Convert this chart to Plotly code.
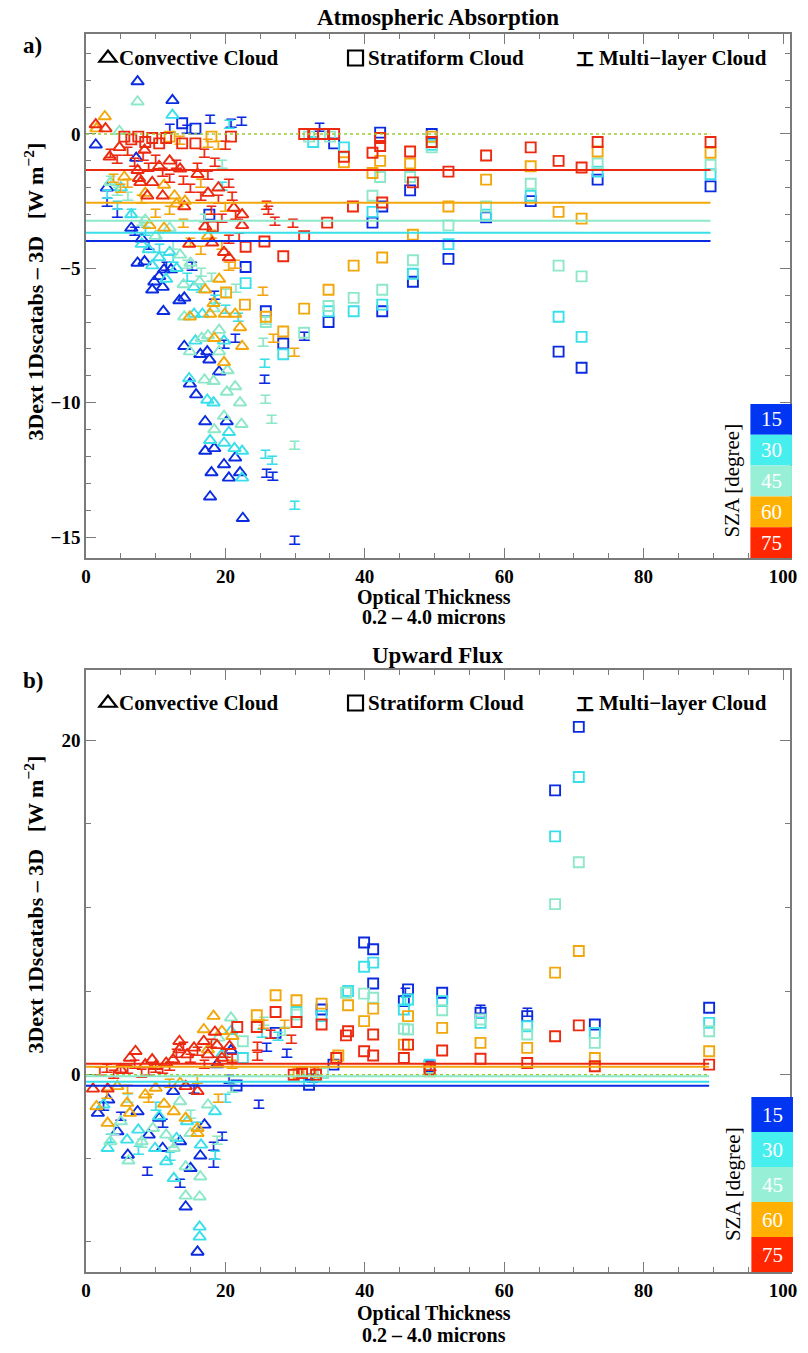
import plotly.graph_objects as go

# ---------------- data ----------------
SZA = [15, 30, 45, 60, 75]
SZA_COLORS = ["#0B2BE0", "#3ADFEA", "#8DE8C9", "#F2A80C", "#EC2A10"]
BOX_COLORS = ["#0036F2", "#46EEEE", "#97EFD6", "#FFB000", "#FF2600"]

# Panel a) Atmospheric Absorption : (optical thickness, 3Dext-1D difference)
a_conv_15 = [(1.4,-0.4),(7.4,1.95),(12.4,1.25),(7.2,-0.9),(3.0,-2.0),(6.5,-3.5),(8.0,-3.9),(7.4,-4.8),(8.4,-4.75),(9.8,-5.5),(9.5,-5.8),(10.5,-5.3),(11.0,-5.7),(11.2,-5.05),(12.2,-5.05),(11.1,-6.6),(13.4,-6.2),(14.1,-6.1),(14.1,-7.9),(16.4,-8.2),(17.4,-8.1),(17.7,-8.4),(19.1,-8.85),(14.9,-9.3),(15.8,-9.7),(17.1,-10.7),(20.2,-10.7),(17.1,-11.8),(18.4,-11.7),(21.4,-12.05),(19.8,-12.3),(22.1,-12.6),(18.0,-12.6),(20.5,-12.8),(17.8,-13.5),(22.5,-14.3)]
a_conv_30 = [(12.4,0.7),(5.0,-2.0),(6.5,-3.0),(8.0,-4.1),(9.0,-4.3),(10.5,-4.6),(12.0,-4.4),(13.0,-5.0),(15.5,-5.7),(15.5,-6.7),(16.7,-6.7),(15.7,-7.7),(19.8,-7.7),(14.8,-9.1),(17.4,-9.9),(18.3,-10.0),(20.5,-11.1),(17.8,-11.4),(19.8,-11.5),(21.3,-11.7),(22.4,-11.8),(22.4,-12.8),(9.5,-4.9),(11.5,-5.4)]
a_conv_45 = [(7.4,1.2),(4.8,0.1),(3.5,-1.8),(8.5,-3.2),(10.0,-3.8),(12.0,-3.5),(13.5,-4.5),(15.0,-4.8),(14.0,-5.6),(16.3,-5.5),(18.3,-6.5),(14.1,-6.8),(14.9,-8.1),(16.6,-7.6),(17.5,-7.5),(19.1,-7.3),(19.1,-8.1),(17.0,-9.15),(18.3,-9.2),(20.3,-8.8),(21.4,-9.4),(22.1,-10.0),(19.8,-10.5),(18.4,-11.0),(22.3,-10.8),(20.2,-9.6)]
a_conv_60 = [(1.5,0.2),(2.7,0.65),(5.5,-1.6),(8.5,-2.2),(11.2,-1.9),(12.7,-2.3),(13.0,-2.6),(14.2,-2.5),(9.1,-3.4),(11.2,-3.5),(19.1,-5.4),(17.1,-5.8),(18.3,-6.3),(14.9,-6.8),(17.8,-6.7),(19.9,-6.7),(21.4,-6.7),(22.1,-7.2),(18.4,-7.6),(22.4,-7.9),(19.8,-8.5),(17.5,-3.8)]
a_conv_75 = [(1.4,0.35),(2.8,0.2),(3.4,-0.85),(4.8,-0.5),(7.4,-1.35),(7.6,-1.65),(7.8,-1.8),(8.4,-0.6),(9.5,-1.8),(8.8,-2.3),(10.5,-1.2),(11.0,-2.3),(12.0,-1.0),(13.5,-1.3),(14.1,-2.7),(14.8,-4.1),(16.0,-1.5),(17.1,-3.45),(17.5,-2.2),(18.1,-4.05),(19.0,-2.0),(19.8,-4.4),(21.2,-2.75),(22.4,-3.0),(22.4,-3.4),(20.5,-4.6)]

a_strat_15 = [(15.7,0.2),(13.8,0.4),(17.7,-3.0),(22.9,-4.95),(25.8,-6.6),(28.3,-7.8),(34.8,-7.0),(35.6,-0.35),(41.1,-3.3),(42.2,0.05),(42.5,-2.7),(42.5,-6.6),(46.5,-2.1),(46.9,-5.5),(49.6,0.0),(52.0,-4.65),(57.4,-3.1),(63.8,-2.5),(67.8,-8.1),(71.1,-8.7),(73.4,-1.7),(89.6,-1.95)]
a_strat_30 = [(22.9,-5.55),(28.3,-8.2),(32.6,-0.3),(34.8,-6.6),(37.0,-0.5),(38.4,-6.6),(41.1,-2.9),(42.5,-6.35),(46.9,-5.2),(49.6,-0.4),(52.0,-4.1),(57.4,-3.0),(63.8,-2.3),(67.8,-6.8),(71.1,-7.55),(73.4,-1.4),(89.6,-1.5)]
a_strat_45 = [(25.8,-7.0),(31.3,-7.4),(32.0,-0.1),(34.8,-6.4),(35.0,-0.1),(38.4,-6.1),(41.1,-2.3),(42.2,-1.6),(42.5,-5.8),(46.5,-1.6),(46.9,-4.7),(49.6,-0.5),(52.0,-3.4),(57.4,-2.7),(63.8,-1.85),(67.8,-4.9),(71.1,-5.3),(73.4,-1.1),(89.6,-1.15)]
a_strat_60 = [(12.0,-0.1),(18.0,-0.1),(20.1,-5.9),(22.8,-6.35),(25.8,-6.8),(28.3,-7.35),(31.3,-6.5),(34.8,-5.8),(37.0,-1.05),(38.4,-4.9),(41.1,-1.45),(42.2,-1.0),(42.5,-4.6),(46.5,-1.1),(46.9,-3.75),(49.6,-0.1),(52.0,-2.7),(57.4,-1.7),(63.8,-1.2),(67.8,-2.9),(71.1,-3.15),(73.4,-0.65),(89.6,-0.7)]
a_strat_75 = [(5.5,-0.1),(6.5,-0.2),(7.5,-0.1),(8.5,-0.3),(9.5,-0.15),(10.5,-0.35),(11.5,-0.15),(13.8,-0.35),(15.7,-0.35),(20.8,-0.1),(18.2,-3.45),(22.9,-4.2),(25.6,-4.0),(28.3,-4.55),(31.3,-3.8),(34.6,-3.3),(38.3,-2.7),(31.3,0.0),(32.6,0.0),(34.0,0.0),(35.6,0.0),(37.0,-0.85),(41.1,-0.7),(42.2,-0.15),(42.2,-0.45),(42.5,-2.55),(46.5,-0.65),(46.9,-1.8),(49.6,-0.3),(52.0,-1.4),(57.4,-0.8),(63.8,-0.5),(67.8,-1.0),(71.1,-1.25),(73.4,-0.3),(89.6,-0.3)]

a_multi_15 = [(3.0,-2.6),(4.5,-3.0),(7.0,-3.7),(9.0,-4.2),(11.5,-5.0),(12.0,0.15),(14.5,0.1),(15.2,-5.0),(17.8,0.5),(18.4,-6.05),(19.8,-7.9),(20.8,0.35),(21.4,-7.65),(22.3,0.4),(25.6,-9.2),(25.9,-12.7),(26.8,-12.8),(29.9,-15.2),(31.3,-7.6),(33.5,0.2)]
a_multi_30 = [(3.0,-2.3),(4.5,-2.7),(6.5,-3.0),(8.5,-3.7),(10.5,-4.3),(12.5,-4.7),(14.5,-5.4),(16.5,-5.8),(18.5,-6.2),(19.5,-2.0),(20.0,-6.6),(20.5,0.3),(21.8,-6.9),(25.6,-8.6),(25.7,-12.0),(26.7,-12.2),(29.9,-13.9)]
a_multi_45 = [(3.5,-1.8),(4.5,-2.2),(6.0,-2.4),(8.0,-3.3),(10.5,-3.9),(12.5,-4.2),(14.5,-4.9),(16.5,-5.2),(17.0,-3.2),(18.0,-5.4),(19.5,-1.2),(20.0,-6.0),(21.5,-5.8),(25.4,-7.8),(25.7,-7.0),(25.7,-9.95),(26.6,-10.7),(29.9,-11.65)]
a_multi_60 = [(4.0,-1.7),(5.0,-2.1),(6.0,-1.9),(8.0,-2.5),(10.0,-3.0),(12.0,-2.9),(13.5,-0.3),(14.0,-3.4),(15.0,-4.1),(16.5,-4.4),(16.5,-1.9),(17.5,-0.4),(18.0,-3.8),(19.0,-0.5),(19.5,-4.2),(20.0,-2.8),(20.5,-5.0),(21.4,-4.9),(25.4,-5.9),(26.9,-7.65),(29.9,-8.2)]
a_multi_75 = [(3.5,-0.8),(4.5,-1.0),(6.0,-0.7),(7.0,-1.1),(8.2,-0.9),(9.0,-1.3),(10.0,-1.0),(11.0,-1.5),(12.0,-1.7),(13.0,-1.2),(14.0,-1.8),(15.0,-2.1),(16.0,-1.3),(16.5,-2.4),(17.0,-0.8),(17.5,-1.6),(18.0,-2.9),(18.5,-1.1),(19.0,-2.5),(19.5,-3.2),(20.0,-0.5),(20.5,-1.9),(21.0,-2.4),(21.5,-3.1),(22.0,-3.9),(20.5,-4.0),(25.9,-2.7),(26.2,-2.9),(27.1,-3.3),(29.7,-3.4)]

a_mean = [-3.98, -3.68, -3.23, -2.56, -1.34]

# Panel b) Upward Flux
b_conv_15 = [(1.7,-2.3),(3.2,-1.5),(4.5,-3.4),(6.0,-4.8),(7.4,-2.2),(9.0,-3.6),(10.5,-2.6),(11.0,-4.4),(12.5,-1.0),(13.5,-4.0),(14.3,-7.9),(15.0,-5.6),(16.0,-10.6),(16.4,-4.85),(17.0,-3.0),(18.8,0.6),(20.8,1.45)]
b_conv_30 = [(2.5,-1.8),(3.1,-4.4),(5.9,-3.9),(7.5,-3.3),(9.9,-4.4),(10.5,-2.5),(11.5,-5.2),(12.6,-6.2),(13.0,-3.8),(14.5,-2.8),(16.3,-9.7),(16.3,-9.1),(16.5,-4.2),(18.5,-2.2),(19.5,1.2),(20.8,2.6)]
b_conv_45 = [(3.5,-4.0),(5.0,-2.8),(6.1,-5.15),(8.0,-4.0),(9.6,-3.2),(11.5,-3.6),(12.6,-4.4),(13.5,-1.6),(14.3,-5.5),(14.3,-7.25),(15.0,-3.5),(16.3,-7.3),(16.4,-6.1),(17.5,-1.8),(19.0,2.2),(20.8,3.4)]
b_conv_60 = [(1.5,-1.9),(3.1,-2.9),(4.5,-0.7),(5.9,-1.7),(6.3,-2.3),(8.5,-1.2),(10.0,-0.8),(11.2,-1.75),(12.6,-2.2),(13.5,-0.5),(14.3,-2.6),(16.0,-3.5),(16.0,-3.2),(16.9,2.7),(17.5,1.5),(18.3,3.5),(19.5,2.6),(21.0,2.3)]
b_conv_75 = [(1.0,-0.85),(3.1,-0.85),(5.0,0.3),(6.3,1.0),(7.1,1.4),(8.5,0.6),(9.5,0.9),(10.0,0.5),(11.5,0.7),(12.5,0.9),(13.4,2.0),(13.4,1.5),(14.3,-0.7),(14.5,1.2),(15.5,1.6),(16.0,-1.0),(16.9,2.0),(17.5,1.2),(18.5,2.55),(18.8,1.75),(19.5,1.0),(20.6,1.7)]

b_strat_15 = [(21.6,-0.65),(27.2,2.5),(32.0,-0.6),(33.8,3.9),(35.5,0.6),(39.9,7.9),(41.2,7.5),(41.2,5.45),(45.6,4.4),(46.2,5.1),(49.3,0.5),(51.1,4.9),(56.6,3.7),(63.3,3.5),(67.3,17.0),(70.7,20.8),(73.0,3.0),(89.4,4.0)]
b_strat_30 = [(22.5,1.0),(30.2,3.75),(32.0,-0.35),(33.8,3.5),(37.6,5.0),(39.9,6.45),(41.2,6.7),(45.6,3.9),(46.2,4.5),(49.3,0.6),(51.1,4.4),(56.6,3.1),(63.3,2.9),(67.3,14.25),(70.7,17.8),(73.0,2.5),(89.4,3.1)]
b_strat_45 = [(22.5,2.0),(30.2,3.6),(34.0,0.1),(37.3,4.9),(39.9,4.85),(41.2,4.6),(45.6,2.75),(46.2,2.7),(49.3,0.4),(51.1,3.85),(56.6,3.3),(63.3,2.4),(67.3,10.2),(70.7,12.7),(73.0,1.9),(89.4,2.6)]
b_strat_60 = [(24.5,3.55),(27.2,4.75),(30.2,4.45),(30.5,0.1),(33.8,4.25),(36.2,1.15),(37.6,4.15),(39.9,3.2),(41.2,3.95),(45.6,1.8),(46.2,3.5),(49.3,0.2),(51.1,2.8),(56.6,1.9),(63.3,1.6),(67.3,6.1),(70.7,7.4),(73.0,1.0),(89.4,1.4)]
b_strat_75 = [(21.7,2.85),(24.5,2.85),(27.2,3.75),(29.8,0.0),(30.2,3.15),(31.0,0.1),(33.0,0.0),(33.8,3.0),(35.9,1.0),(37.3,2.35),(37.6,2.6),(39.9,1.4),(41.2,2.4),(41.2,1.15),(45.6,1.0),(46.2,1.8),(49.3,0.3),(51.1,1.45),(56.6,0.95),(63.3,0.7),(67.3,2.3),(70.7,2.95),(73.0,0.5),(89.4,0.6)]

b_multi_15 = [(2.5,-2.0),(5.0,-2.6),(8.8,-5.9),(11.0,-3.0),(13.5,-6.6),(15.5,-1.0),(18.3,-5.4),(18.3,-4.4),(19.5,-3.8),(20.5,-0.4),(24.8,-1.9),(25.9,1.55),(28.8,1.15),(32.5,-0.3),(45.8,4.8),(56.6,3.8),(63.3,3.6)]
b_multi_30 = [(3.5,-3.9),(7.5,-4.6),(10.0,-2.0),(12.0,-5.0),(16.0,-3.2),(18.5,-4.9),(20.0,-1.5),(25.2,2.4),(27.5,2.2),(45.8,4.3)]
b_multi_45 = [(4.0,-3.4),(6.0,-1.5),(8.0,-4.2),(12.5,-4.2),(15.0,-2.5),(18.8,-4.0),(21.0,-0.9),(25.5,3.1),(28.5,2.5)]
b_multi_60 = [(3.0,-1.3),(6.0,-1.0),(9.0,-1.5),(12.0,-0.6),(16.0,-0.4),(19.0,-1.5),(21.0,0.5),(25.5,2.9),(28.5,2.9),(33.0,0.0)]
b_multi_75 = [(2.0,0.1),(3.0,0.3),(4.0,-0.1),(5.0,0.2),(6.0,0.2),(7.0,0.5),(8.0,0.0),(9.0,0.1),(10.0,0.3),(11.0,0.2),(12.0,0.4),(13.0,1.2),(14.0,1.6),(15.0,0.9),(16.0,1.3),(17.0,0.5),(18.0,1.8),(19.0,0.7),(20.0,1.2),(21.0,0.9),(24.6,1.6),(24.6,1.0),(26.5,2.3),(29.5,2.0),(31.0,0.0),(32.8,0.1),(49.5,0.4)]

b_mean = [-0.66, -0.42, -0.10, 0.48, 0.65]

CLOUD_TYPES = ["Convective Cloud", "Stratiform Cloud", "Multi\u2212layer Cloud"]
MULTI_GLYPH = "\u5de5"

panels = [
    dict(conv=[a_conv_15, a_conv_30, a_conv_45, a_conv_60, a_conv_75],
         strat=[a_strat_15, a_strat_30, a_strat_45, a_strat_60, a_strat_75],
         multi=[a_multi_15, a_multi_30, a_multi_45, a_multi_60, a_multi_75],
         mean=a_mean, xa="x", ya="y"),
    dict(conv=[b_conv_15, b_conv_30, b_conv_45, b_conv_60, b_conv_75],
         strat=[b_strat_15, b_strat_30, b_strat_45, b_strat_60, b_strat_75],
         multi=[b_multi_15, b_multi_30, b_multi_45, b_multi_60, b_multi_75],
         mean=b_mean, xa="x2", ya="y2"),
]

# ---------------- geometry ----------------
W, H = 808, 1353
L, R, T, B = 86, 11, 34, 81
PW, PH = W - L - R, H - T - B
SERIF = "Liberation Serif"
CJK = "Noto Sans CJK SC"
AXC = "#7a7a7a"

def pxx(px):
    return (px - L) / PW

def pxy(py):
    return (H - B - py) / PH

fig = go.Figure()

for p in panels:
    for k in range(5):
        pts = p["conv"][k]
        fig.add_trace(go.Scatter(
            x=[q[0] for q in pts], y=[q[1] for q in pts], mode="markers",
            xaxis=p["xa"], yaxis=p["ya"], showlegend=False, hoverinfo="skip",
            marker=dict(symbol="triangle-up-open", size=11, color=SZA_COLORS[k],
                        line=dict(width=1.9, color=SZA_COLORS[k]))))
        pts = p["strat"][k]
        fig.add_trace(go.Scatter(
            x=[q[0] for q in pts], y=[q[1] for q in pts], mode="markers",
            xaxis=p["xa"], yaxis=p["ya"], showlegend=False, hoverinfo="skip",
            marker=dict(symbol="square-open", size=10, color=SZA_COLORS[k],
                        line=dict(width=1.9, color=SZA_COLORS[k]))))
        pts = p["multi"][k]
        fig.add_trace(go.Scatter(
            x=[q[0] for q in pts], y=[q[1] for q in pts], mode="text",
            text=[MULTI_GLYPH] * len(pts), textposition="middle center",
            xaxis=p["xa"], yaxis=p["ya"], showlegend=False, hoverinfo="skip",
            textfont=dict(family=CJK, size=12, color=SZA_COLORS[k], weight="bold")))

annotations = []
# legend symbols (triangle, square via legend; multi-layer glyph via text) + labels
leg_rows = [58, 703]
sym_px = [107, 357, 590]
txt_px = [117, 369, 602]
legends = {}
li = 1
LEG_SYMBOLS = ["triangle-up-open", "square-open"]
for pi, p in enumerate(panels):
    for ti in range(2):
        name = "legend" if li == 1 else f"legend{li}"
        fig.add_trace(go.Scatter(
            x=[None], y=[None], mode="markers", name="",
            xaxis=p["xa"], yaxis=p["ya"], legend=name, showlegend=True,
            marker=dict(symbol=LEG_SYMBOLS[ti], size=15, color="black",
                        line=dict(width=2.2, color="black"))))
        legends[name] = dict(x=pxx(sym_px[ti] - 19), y=pxy(leg_rows[pi]),
                             xanchor="left", yanchor="middle",
                             bgcolor="rgba(0,0,0,0)", borderwidth=0,
                             font=dict(family=SERIF, size=12, color="black"))
        li += 1
    annotations.append(dict(xref="paper", yref="paper", x=pxx(sym_px[2]), y=pxy(leg_rows[pi]),
                            xanchor="center", yanchor="middle", text=MULTI_GLYPH, showarrow=False,
                            font=dict(family=CJK, size=18, color="black", weight="bold")))
    for ti in range(3):
        annotations.append(dict(xref="paper", yref="paper", x=pxx(txt_px[ti]), y=pxy(leg_rows[pi]),
                                xanchor="left", yanchor="middle", text=CLOUD_TYPES[ti], showarrow=False,
                                font=dict(family=SERIF, size=21, color="black", weight="bold")))

shapes = []
for p in panels:
    span = max(q[0] for grp in (p["conv"] + p["strat"] + p["multi"]) for q in grp)
    shapes.append(dict(type="line", xref=p["xa"], yref=p["ya"], x0=0, x1=span, y0=0, y1=0,
                       line=dict(color="#9ACD32", width=1.5, dash="dot"), layer="above"))
    for k in range(5):
        shapes.append(dict(type="line", xref=p["xa"], yref=p["ya"], x0=0, x1=span,
                           y0=p["mean"][k], y1=p["mean"][k],
                           line=dict(color=SZA_COLORS[k], width=2), layer="above"))

# SZA colour key boxes
box_geo = [(757, 799, 404, 558), (758, 800, 1097, 1272)]
for (x0, x1, y0, y1) in box_geo:
    hbox = (y1 - y0) / 5
    for k in range(5):
        ya0 = y0 + k * hbox
        shapes.append(dict(type="rect", xref="paper", yref="paper",
                           x0=pxx(x0), x1=pxx(x1), y0=pxy(ya0 + hbox), y1=pxy(ya0),
                           fillcolor=BOX_COLORS[k], line=dict(width=0), layer="above"))
        annotations.append(dict(xref="paper", yref="paper", x=pxx((x0 + x1) / 2),
                                y=pxy(ya0 + hbox / 2), text=str(SZA[k]), showarrow=False,
                                xanchor="center", yanchor="middle",
                                font=dict(family=SERIF, size=21, color="white")))
    annotations.append(dict(xref="paper", yref="paper", x=pxx(x0 - 19), y=pxy((y0 + y1) / 2),
                            xanchor="center", yanchor="middle",
                            text="SZA [degree]", textangle=-90, showarrow=False,
                            font=dict(family=SERIF, size=21, color="black")))

titles = [("Atmospheric Absorption", 18, "a)", 45, 292, 597, 617),
          ("Upward Flux", 655, "b)", 680, 905, 1313, 1335)]
for (tt, ty, lab, ly, ymid, xt1, xt2) in titles:
    annotations.append(dict(xref="paper", yref="paper", x=pxx(441), y=pxy(ty), text=tt,
                            xanchor="center", yanchor="middle", showarrow=False,
                            font=dict(family=SERIF, size=23, color="black", weight="bold")))
    annotations.append(dict(xref="paper", yref="paper", x=pxx(32), y=pxy(ly), text=lab,
                            xanchor="center", yanchor="middle", showarrow=False,
                            font=dict(family=SERIF, size=23, color="black", weight="bold")))
    annotations.append(dict(xref="paper", yref="paper", x=pxx(33), y=pxy(ymid),
                            xanchor="center", yanchor="middle",
                            text="3Dext 1Dscatabs \u2013 3D&nbsp;&nbsp;&nbsp;[W m<sup>\u22122</sup>]", textangle=-90,
                            showarrow=False, font=dict(family=SERIF, size=22, color="black", weight="bold")))
    annotations.append(dict(xref="paper", yref="paper", x=pxx(437), y=pxy(xt1), text="Optical Thickness",
                            xanchor="center", yanchor="middle",
                            showarrow=False, font=dict(family=SERIF, size=20, color="black", weight="bold")))
    annotations.append(dict(xref="paper", yref="paper", x=pxx(437), y=pxy(xt2), text="0.2 \u2013 4.0 microns",
                            xanchor="center", yanchor="middle",
                            showarrow=False, font=dict(family=SERIF, size=20, color="black", weight="bold")))

axis_common = dict(showline=True, linecolor=AXC, linewidth=1.5, mirror="ticks",
                   ticks="inside", ticklen=10, tickwidth=1.3, tickcolor=AXC,
                   showgrid=False, zeroline=False,
                   tickfont=dict(family=SERIF, size=19, color="black", weight="bold"))
xcommon = dict(axis_common, range=[0, 101], tick0=0, dtick=20,
               minor=dict(dtick=5, ticks="inside", ticklen=5, tickcolor=AXC, tickwidth=1.2))

layout = dict(
    width=W, height=H, margin=dict(l=L, r=R, t=T, b=B),
    paper_bgcolor="white", plot_bgcolor="white",
    xaxis=dict(xcommon, anchor="y"),
    yaxis=dict(axis_common, anchor="x", domain=[pxy(558), 1], range=[-15.78, 3.72], tick0=0, dtick=5,
               minor=dict(dtick=1, ticks="inside", ticklen=5, tickcolor=AXC, tickwidth=1.2)),
    xaxis2=dict(xcommon, anchor="y2"),
    yaxis2=dict(axis_common, anchor="x2", domain=[0, pxy(670)], range=[-11.8, 24.2], tick0=0, dtick=20,
                minor=dict(dtick=5, ticks="inside", ticklen=5, tickcolor=AXC, tickwidth=1.2)),
    shapes=shapes, annotations=annotations,
)
layout.update(legends)
fig.update_layout(**layout)
fig.write_html("out.html")
